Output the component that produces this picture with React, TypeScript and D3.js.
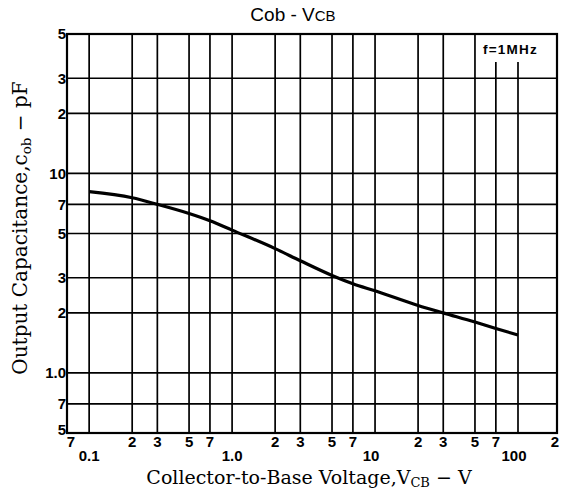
import React from "react";
import * as d3 from "d3";

// Cob vs VCB
const voltage = [0.1, 0.2, 0.3, 0.5, 0.7, 1, 2, 3, 5, 7, 10, 20, 30, 50, 70, 100];
const capacitance = [8.1, 7.55, 7.0, 6.3, 5.8, 5.2, 4.2, 3.65, 3.08, 2.8, 2.58, 2.18, 2.0, 1.8, 1.67, 1.55];

const xTicks = [0.07, 0.1, 0.2, 0.3, 0.5, 0.7, 1, 2, 3, 5, 7, 10, 20, 30, 50, 70, 100, 200];
const xTickLabels = ["7", "0.1", "2", "3", "5", "7", "1.0", "2", "3", "5", "7", "10", "2", "3", "5", "7", "100", "2"];
const xDecades = [0.1, 1, 10, 100];

const yTicks = [0.5, 0.7, 1, 2, 3, 5, 7, 10, 20, 30, 50];
const yTickLabels = ["5", "7", "1.0", "2", "3", "5", "7", "10", "2", "3", "5"];

const W = 563;
const H = 491;

export default function App() {
  const x = d3.scaleLog().domain([0.07, 100, 200]).range([67, 518, 557]);
  const y = d3.scaleLog().domain([0.5, 50]).range([433, 34]);

  const x0 = x(0.07);
  const x1 = x(200);
  const y0 = y(0.5);
  const y1 = y(50);

  const pts: [number, number][] = voltage.map((v, i) => [v, capacitance[i]]);
  const line = d3
    .line<[number, number]>()
    .x((d) => x(d[0]))
    .y((d) => y(d[1]))
    .curve(d3.curveMonotoneX);

  const sans = "'Liberation Sans', Arial, sans-serif";
  const serif = "'DejaVu Serif', 'Liberation Serif', serif";

  // legend box sits in the top right corner, over the 70 and 100 lines
  const legendBottom = 62;

  return (
    <svg width={W} height={H} style={{ position: "absolute", left: 0, top: 0, background: "#fff" }}>
      <rect x={0} y={0} width={W} height={H} fill="#fff" />

      {/* grid */}
      <g stroke="#000" strokeWidth={1.7}>
        {yTicks.map((t) => (
          <line key={"h" + t} x1={x0} x2={x1} y1={y(t)} y2={y(t)} />
        ))}
        {xTicks.map((t) => (
          <line
            key={"v" + t}
            x1={x(t)}
            x2={x(t)}
            y1={t > 50 && t < 200 ? legendBottom : y1}
            y2={y0}
          />
        ))}
      </g>

      {/* frame */}
      <rect x={x0} y={y1} width={x1 - x0} height={y0 - y1} fill="none" stroke="#000" strokeWidth={2.2} />

      {/* curve */}
      <path d={line(pts) || ""} fill="none" stroke="#000" strokeWidth={3.2} />

      {/* legend */}
      <text x={483} y={54} fontFamily={sans} fontWeight="bold" fontSize={13.5} letterSpacing={1.2} fill="#000">
        f=1MHz
      </text>

      {/* y tick labels */}
      <g fontFamily={sans} fontWeight="bold" fontSize={15} textAnchor="end" fill="#000">
        {yTicks.map((t, i) => (
          <text key={"yl" + t} x={66} y={y(t) - (i === 0 ? 3 : 0)} dy="0.36em">
            {yTickLabels[i]}
          </text>
        ))}
      </g>

      {/* x tick labels */}
      <g fontFamily={sans} fontWeight="bold" fontSize={15} textAnchor="middle" fill="#000">
        {xTicks.map((t, i) => {
          const decade = xDecades.includes(t);
          let dx = 0;
          if (i === 0) dx = 4;
          if (i === xTicks.length - 1) dx = -2;
          if (t === 10 || t === 100) dx = -4;
          return (
            <text key={"xl" + t} x={x(t) + dx} y={decade ? 461 : 447}>
              {xTickLabels[i]}
            </text>
          );
        })}
      </g>

      {/* title */}
      <text x={293} y={21} fontFamily={sans} fontSize={19} textAnchor="middle" fill="#000">
        Cob - V<tspan fontSize={15}>CB</tspan>
      </text>

      {/* axis titles */}
      <text
        transform="translate(27,228) rotate(-90)"
        fontFamily={serif}
        fontSize={20}
        textAnchor="middle"
        fill="#000"
      >
        Output Capacitance,c
        <tspan fontSize={13.5} dy={4}>ob</tspan>
        <tspan dy={-4}> − pF</tspan>
      </text>
      <text x={309} y={484} fontFamily={serif} fontSize={19} textAnchor="middle" fill="#000">
        Collector-to-Base Voltage,V
        <tspan fontSize={13} dy={3}>CB</tspan>
        <tspan dy={-3}> − V</tspan>
      </text>
    </svg>
  );
}
